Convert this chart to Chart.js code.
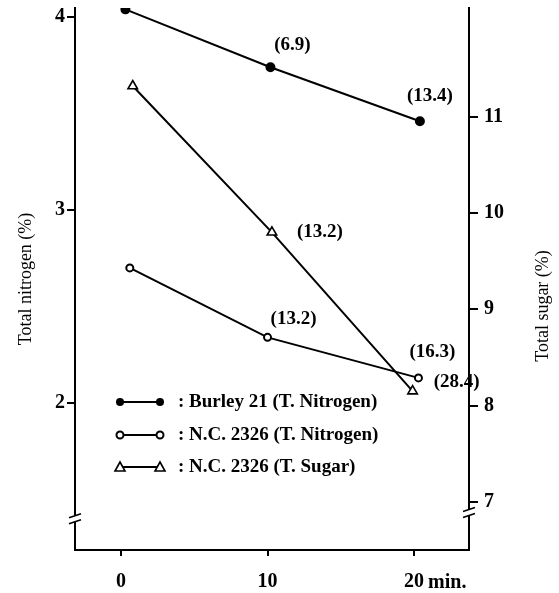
<!DOCTYPE html>
<html>
<head>
<meta charset="utf-8">
<script src="https://cdn.jsdelivr.net/npm/chart.js@4.4.1/dist/chart.umd.min.js"></script>
<style>
  html,body{margin:0;padding:0;background:#fff;}
  #wrap{width:559px;height:593px;}
</style>
</head>
<body>
<div id="wrap"><canvas id="myChart" width="559" height="593"></canvas></div>
<script>
// values (time in min.)
var burley_x=[0.3,10.2,20.4];
var burley_n=[4.04,3.74,3.46];
var burley_lbl=['','(6.9)','(13.4)'];

var nc_x=[0.6,10.0,20.3];
var nc_n=[2.70,2.34,2.13];
var nc_lbl=['','(13.2)','(16.3)'];

var sugar_x=[0.8,10.3,19.9];
var sugar_s=[11.32,9.80,8.15];
var sugar_lbl=['','(13.2)','(28.4)'];

var x_ticks=[0,10,20];
var x_tick_lbl=['0','10','20'];
var n_ticks=[2,3,4];
var s_ticks=[7,8,9,10,11];
var series_names=['Burley 21 (T. Nitrogen)','N.C. 2326 (T. Nitrogen)','N.C. 2326 (T. Sugar)'];

var SERIF='"Liberation Serif","DejaVu Serif",serif';

function pts(xs,ys){
  return xs.map(function(v,i){return {x:v,y:ys[i]};});
}

// offsets of the bracket labels from their point (px)
var lblOffset=[[null,[22,-22],[10,-25]],[null,[26,-18],[14,-26]],[null,[48,0],[44,-9]]];
var pointLabels=[burley_lbl,nc_lbl,sugar_lbl];

function drawMark(ctx,kind,x,y){
  ctx.save();
  ctx.strokeStyle='#000';
  ctx.fillStyle='#000';
  ctx.lineWidth=2;
  ctx.beginPath();
  if(kind==0){
    ctx.arc(x,y,4,0,Math.PI*2);ctx.fill();
  }else if(kind==1){
    ctx.fillStyle='#fff';
    ctx.arc(x,y,3.5,0,Math.PI*2);ctx.fill();ctx.stroke();
  }else{
    ctx.fillStyle='#fff';ctx.lineWidth=1.6;
    ctx.moveTo(x,y-5);ctx.lineTo(x+5,y+4);ctx.lineTo(x-5,y+4);ctx.closePath();
    ctx.fill();ctx.stroke();
  }
  ctx.restore();
}

var extras={
  id:'extras',
  afterDatasetsDraw:function(chart){
    var ctx=chart.ctx;
    var area=chart.chartArea;
    ctx.save();
    ctx.fillStyle='#000';
    ctx.font='bold 19px '+SERIF;
    ctx.textAlign='center';
    ctx.textBaseline='middle';
    // bracket labels next to points
    for(var d=0;d<3;d++){
      var meta=chart.getDatasetMeta(d);
      meta.data.forEach(function(el,i){
        var t=pointLabels[d][i];
        if(!t) return;
        var o=lblOffset[d][i];
        ctx.fillText(t,el.x+o[0],el.y+o[1]);
      });
    }
    // legend
    var rows=[402,435,467];
    for(var k=0;k<3;k++){
      var y=rows[k];
      ctx.strokeStyle='#000';ctx.lineWidth=2;
      ctx.beginPath();ctx.moveTo(120,y);ctx.lineTo(160,y);ctx.stroke();
      drawMark(ctx,k,120,y);
      drawMark(ctx,k,160,y);
      ctx.textAlign='left';
      ctx.fillText(':',178,y);
      ctx.fillText(series_names[k],189,y);
    }
    // unit after the last x tick
    var xs=chart.scales.x;
    ctx.font='bold 20px '+SERIF;
    ctx.textAlign='left';
    ctx.textBaseline='top';
    ctx.fillText('min.',xs.getPixelForValue(20)+14,area.bottom+6+17);
    // right axis title, reading bottom to top
    ctx.font='18px '+SERIF;
    ctx.textAlign='center';
    ctx.textBaseline='middle';
    ctx.translate(area.right+74,306);
    ctx.rotate(-Math.PI/2);
    ctx.fillText('Total sugar (%)',0,0);
    ctx.restore();

    // axis break marks
    function brk(x,y){
      ctx.save();
      ctx.fillStyle='#fff';
      ctx.fillRect(x-3,y-3,6,6);
      ctx.strokeStyle='#000';ctx.lineWidth=1.6;
      ctx.beginPath();
      ctx.moveTo(x-6,y-1);ctx.lineTo(x+6,y-5);
      ctx.moveTo(x-6,y+5);ctx.lineTo(x+6,y+1);
      ctx.stroke();
      ctx.restore();
    }
    brk(area.left,chart.scales.y.getPixelForValue(1.40));
    brk(area.right,chart.scales.y2.getPixelForValue(6.89));
  }
};

var ctx=document.getElementById('myChart');
var myChart=new Chart(ctx,{
  type:'line',
  data:{
    datasets:[
      {label:series_names[0],data:pts(burley_x,burley_n),yAxisID:'y',
        borderColor:'#000',borderWidth:2,pointStyle:'circle',pointRadius:4,
        pointBackgroundColor:'#000',pointBorderColor:'#000'},
      {label:series_names[1],data:pts(nc_x,nc_n),yAxisID:'y',
        borderColor:'#000',borderWidth:2,pointStyle:'circle',pointRadius:3.5,
        pointBorderWidth:2,pointBackgroundColor:'#fff',pointBorderColor:'#000'},
      {label:series_names[2],data:pts(sugar_x,sugar_s),yAxisID:'y2',
        borderColor:'#000',borderWidth:2,pointStyle:'triangle',pointRadius:5.5,
        pointBorderWidth:1.6,pointBackgroundColor:'#fff',pointBorderColor:'#000'}
    ]
  },
  options:{
    responsive:false,
    animation:false,
    devicePixelRatio:1,
    layout:{padding:{top:8,left:0,right:0,bottom:0}},
    plugins:{legend:{display:false},tooltip:{enabled:false}},
    scales:{
      x:{
        type:'linear',min:-3.14,max:23.75,
        afterBuildTicks:function(s){s.ticks=x_ticks.map(function(v){return {value:v};});},
        afterFit:function(s){s.height=43;s.paddingLeft=0;s.paddingRight=0;},
        border:{display:true,color:'#000',width:2},
        grid:{drawOnChartArea:false,drawTicks:true,tickLength:6,color:'#000',lineWidth:2},
        ticks:{color:'#000',padding:14,maxRotation:0,font:{family:SERIF,size:20,weight:'bold'},
          callback:function(v,i){return x_tick_lbl[i];}}
      },
      y:{
        type:'linear',position:'left',min:1.238,max:4.047,
        afterBuildTicks:function(s){s.ticks=n_ticks.map(function(v){return {value:v};});},
        afterFit:function(s){s.width=75;s.paddingTop=0;s.paddingBottom=0;},
        border:{display:true,color:'#000',width:2},
        grid:{drawOnChartArea:false,drawTicks:true,tickLength:8,color:'#000',lineWidth:2},
        ticks:{color:'#000',padding:2,font:{family:SERIF,size:20,weight:'bold'}},
        title:{display:true,text:'Total nitrogen (%)',color:'#000',
          font:{family:SERIF,size:18,weight:'normal'},padding:{top:15,bottom:0}}
      },
      y2:{
        type:'linear',position:'right',min:6.50,max:12.13,
        afterBuildTicks:function(s){s.ticks=s_ticks.map(function(v){return {value:v};});},
        afterFit:function(s){s.width=90;s.paddingTop=0;s.paddingBottom=0;},
        border:{display:true,color:'#000',width:2},
        grid:{drawOnChartArea:false,drawTicks:true,tickLength:9,color:'#000',lineWidth:2},
        ticks:{color:'#000',padding:6,font:{family:SERIF,size:20,weight:'bold'}}
      }
    }
  },
  plugins:[extras]
});
</script>
</body>
</html>
